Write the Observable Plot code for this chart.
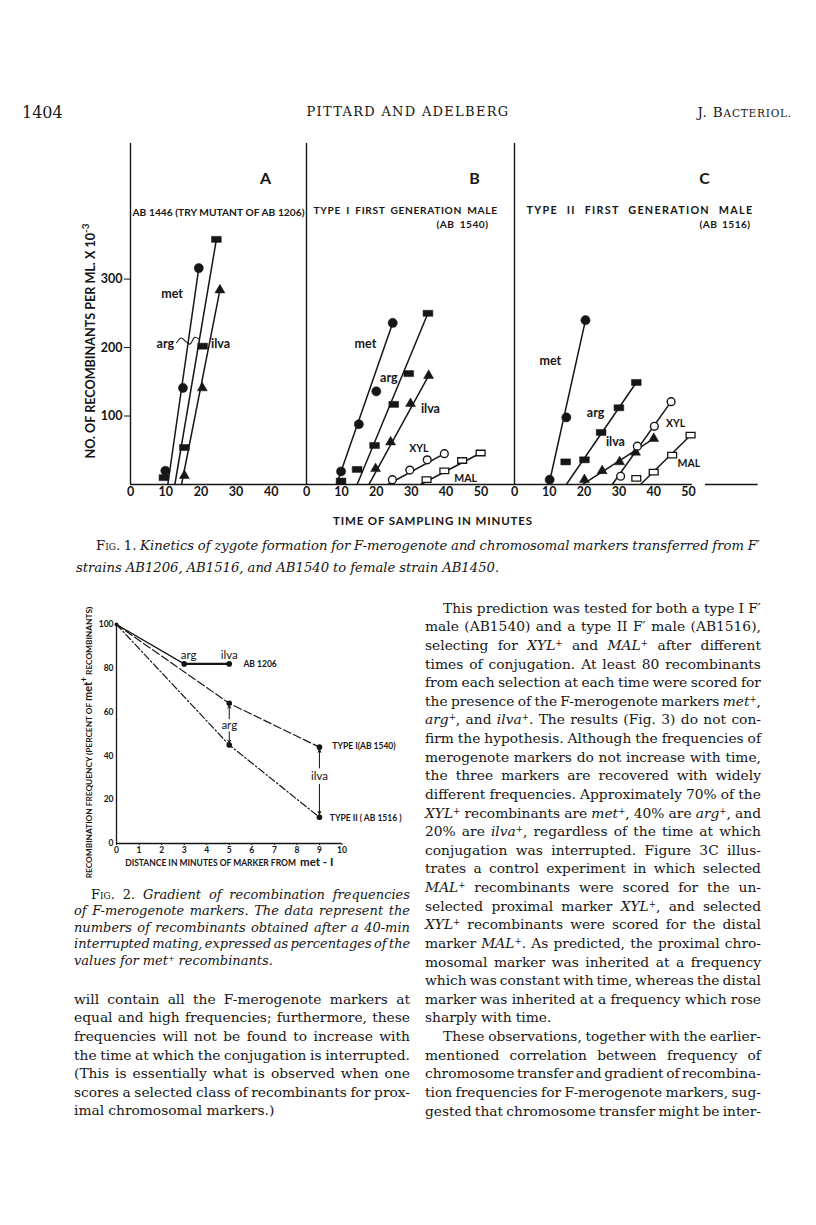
<!DOCTYPE html>
<html><head><meta charset="utf-8">
<script src="https://cdn.jsdelivr.net/npm/d3@7"></script>
<script src="https://cdn.jsdelivr.net/npm/@observablehq/plot@0.6"></script>
<style>
html,body{margin:0;padding:0;background:#fff;}
#page{position:relative;width:816px;height:1225px;overflow:hidden;background:#fff;color:#161616;}
.abs{position:absolute;}
.serif{font-family:"DejaVu Serif",serif;}
.line{display:flex;justify-content:space-between;white-space:nowrap;gap:0.18em;}
.line.last{justify-content:flex-start;gap:0.3em;}
.sc{font-variant:small-caps;font-style:normal;}
.rm{font-style:normal;}
sup{font-size:0.62em;line-height:0;vertical-align:0.5em;}
svg{overflow:visible;}
</style></head><body><div id="page"></div>
<script>
// ================= DATA =================
const INK = "#161616";
// Fig. 1 — time of sampling (min) vs recombinants per ml x 10^-3
const fig1XTicks = { A: [0, 10, 20, 30, 40], B: [0, 10, 20, 30, 40, 50], C: [0, 10, 20, 30, 40, 50] };
const fig1YTicks = [100, 200, 300];

// Panel A: AB 1446 (try mutant of AB 1206)
const timeA = { met: [9.9, 14.9, 19.4], arg: [9.5, 15.3, 20.5, 24.4], ilva: [15.3, 20.4, 25.4] };
const recA  = { met: [20, 141, 316],    arg: [10, 54, 202, 358],     ilva: [13, 141, 284] };
const fitA  = { met: [10.6, 19.4, 316], arg: [12.6, 24.4, 358], ilva: [14.5, 25.4, 284] }; // [t at 0, t end, value end]

// Panel B: type I first generation male (AB 1540)
const timeB = { met: [9.9, 15.0, 20.0, 24.7], arg: [9.9, 14.5, 19.5, 25.0, 29.3, 34.8], ilva: [19.8, 24.1, 29.8, 35.0], XYL: [24.6, 29.6, 34.6, 39.5], MAL: [34.4, 39.5, 44.6, 49.9] };
const recB  = { met: [19, 88, 136, 236],      arg: [5, 22, 57, 117, 162, 250],          ilva: [23, 62, 118, 159],       XYL: [7, 21, 36, 45],          MAL: [7, 20, 35, 46] };
const fitB  = { met: [8.6, 24.7, 236], arg: [14.5, 34.8, 250], ilva: [17.9, 35.0, 159], XYL: [23.3, 39.5, 45], MAL: [32.7, 49.9, 46] };

// Panel C: type II first generation male (AB 1516)
const timeC = { met: [10.1, 14.9, 20.4], arg: [14.7, 20.1, 24.9, 30.0, 35.0], ilva: [20.1, 25.2, 30.2, 34.8, 40.0], XYL: [30.5, 35.3, 40.2, 45.0], MAL: [35.0, 40.0, 45.3, 50.6] };
const recC  = { met: [7, 98, 240],        arg: [33, 36, 76, 112, 149],          ilva: [7, 20, 33, 47, 67],            XYL: [12, 56, 85, 121],        MAL: [9, 18, 43, 72] };
const fitC  = { met: [9.9, 20.4, 240], arg: [14.9, 35.0, 149], ilva: [19.6, 40.0, 67], XYL: [28.1, 45.0, 121], MAL: [36.2, 50.6, 72] };

// curve labels (data units)
const labelsA = [["met", 11.8, 278], ["arg", 9.9, 205], ["ilva", 25.6, 205]];
const labelsB = [["met", 16.9, 205], ["arg", 23.6, 155], ["ilva", 35.5, 110], ["XYL", 32.2, 52], ["MAL", 45.6, 8]];
const labelsC = [["met", 10.3, 181], ["arg", 23.3, 104], ["ilva", 29.0, 62], ["XYL", 46.3, 89], ["MAL", 50.1, 30]];
const squiggleA = [[13.1, 207], [14.4, 214], [15.7, 209], [16.9, 205], [18.2, 215], [19.3, 213]];

// Fig. 2 — distance (min) from met vs recombination frequency (% of met+)
const fig2XTicks = [0, 1, 2, 3, 4, 5, 6, 7, 8, 9, 10];
const fig2YTicks = [0, 20, 40, 60, 80, 100];
const ab1206Dist = [0, 3, 5],  ab1206Freq = [100, 82, 82];
const typeIDist  = [0, 5, 9],  typeIFreq  = [100, 64, 44];
const typeIIDist = [0, 5, 9],  typeIIFreq = [100, 45, 12];

// ================= TEXT =================
const fig1Caption = [
  '<span class="sc">Fig.</span> <span class="rm">1.</span> Kinetics of zygote formation for F-merogenote and chromosomal markers transferred from F′',
  'strains AB1206, AB1516, and AB1540 to female strain AB1450.'
];
const fig2Caption = [
  '<span class="sc">Fig.</span> <span class="rm">2.</span> Gradient of recombination frequencies',
  'of F-merogenote markers. The data represent the',
  'numbers of recombinants obtained after a 40-min',
  'interrupted mating, expressed as percentages of the',
  'values for met<sup>+</sup> recombinants.'
];
const leftBody = [
  'will contain all the F-merogenote markers at',
  'equal and high frequencies; furthermore, these',
  'frequencies will not be found to increase with',
  'the time at which the conjugation is interrupted.',
  '(This is essentially what is observed when one',
  'scores a selected class of recombinants for prox-',
  'imal chromosomal markers.)'
];
const rightBody = [
  'This prediction was tested for both a type I F′',
  'male (AB1540) and a type II F′ male (AB1516),',
  'selecting for <i>XYL</i><sup>+</sup> and <i>MAL</i><sup>+</sup> after different',
  'times of conjugation. At least 80 recombinants',
  'from each selection at each time were scored for',
  'the presence of the F-merogenote markers <i>met</i><sup>+</sup>,',
  '<i>arg</i><sup>+</sup>, and <i>ilva</i><sup>+</sup>. The results (Fig. 3) do not con-',
  'firm the hypothesis. Although the frequencies of',
  'merogenote markers do not increase with time,',
  'the three markers are recovered with widely',
  'different frequencies. Approximately 70% of the',
  '<i>XYL</i><sup>+</sup> recombinants are <i>met</i><sup>+</sup>, 40% are <i>arg</i><sup>+</sup>, and',
  '20% are <i>ilva</i><sup>+</sup>, regardless of the time at which',
  'conjugation was interrupted. Figure 3C illus-',
  'trates a control experiment in which selected',
  '<i>MAL</i><sup>+</sup> recombinants were scored for the un-',
  'selected proximal marker <i>XYL</i><sup>+</sup>, and selected',
  '<i>XYL</i><sup>+</sup> recombinants were scored for the distal',
  'marker <i>MAL</i><sup>+</sup>. As predicted, the proximal chro-',
  'mosomal marker was inherited at a frequency',
  'which was constant with time, whereas the distal',
  'marker was inherited at a frequency which rose',
  'sharply with time.',
  'These observations, together with the earlier-',
  'mentioned correlation between frequency of',
  'chromosome transfer and gradient of recombina-',
  'tion frequencies for F-merogenote markers, sug-',
  'gested that chromosome transfer might be inter-'
];

// ================= PAGE =================
const page = document.getElementById("page");
function addDiv(html, css) {
  const d = document.createElement("div");
  d.className = "abs";
  d.innerHTML = html;
  Object.assign(d.style, css);
  page.appendChild(d);
  return d;
}

// running head
addDiv("1404", {left: "22px", top: "103px", font: "16px 'DejaVu Serif', serif"});
addDiv("PITTARD AND ADELBERG", {left: "0px", width: "816px", textAlign: "center", top: "104px", font: "13px 'DejaVu Serif', serif", letterSpacing: "1.3px"});
addDiv('J. B<span style="font-size:10.5px">ACTERIOL.</span>', {right: "24px", top: "104px", font: "13.5px 'DejaVu Serif', serif", letterSpacing: "0.8px"});

// justified text block (split on spaces outside of tags)
function textBlock(lines, {left, top, width, lineHeight, fontSize, italic, lastIdx = [], indentIdx = [], indent = 18}) {
  const block = document.createElement("div");
  block.className = "abs serif";
  Object.assign(block.style, {left: left + "px", top: top + "px", width: width + "px", lineHeight: lineHeight + "px", fontStyle: italic ? "italic" : "normal"});
  page.appendChild(block);
  const rows = lines.map((ln, i) => {
    const row = document.createElement("div");
    row.className = "line" + (lastIdx.includes(i) ? " last" : "");
    if (indentIdx.includes(i)) row.style.paddingLeft = indent + "px";
    row.style.height = lineHeight + "px";
    ln.split(/ (?![^<]*>)/).forEach(w => { const s = document.createElement("span"); s.innerHTML = w; row.appendChild(s); });
    block.appendChild(row);
    return row;
  });
  let fs = fontSize;
  block.style.fontSize = fs + "px";
  let guard = 0;
  while (rows.some(r => r.scrollWidth > r.clientWidth + 0.5) && guard++ < 60) { fs -= 0.2; block.style.fontSize = fs + "px"; }
  block.fitSize = fs;
  return block;
}

// ================= FIG. 1 =================
const Y_MAX = 498, PX_TOP = 143, PX_BASE = 484;
const rectSym = {draw(ctx, size) { const w = Math.sqrt(size) * 1.25, h = w * 0.62; ctx.moveTo(-w/2, -h/2); ctx.lineTo(w/2, -h/2); ctx.lineTo(w/2, h/2); ctx.lineTo(-w/2, h/2); ctx.closePath(); }};
const symbolFor = {
  met:  {symbol: "circle", r: 4.6, fill: INK, stroke: INK, strokeWidth: 0.5},
  arg:  {symbol: rectSym, r: 4.4, fill: INK, stroke: INK, strokeWidth: 0.5},
  ilva: {symbol: d3.symbolTriangle, r: 3.7, fill: INK, stroke: INK, strokeWidth: 0.5},
  XYL:  {symbol: "circle", r: 3.9, fill: "white", stroke: INK, strokeWidth: 1.4},
  MAL:  {symbol: rectSym, r: 4.0, fill: "white", stroke: INK, strokeWidth: 1.3}
};
const plotStyle = {fontFamily: "Lato, 'DejaVu Sans', sans-serif", fontWeight: 700, fontSize: "12px", background: "transparent", color: INK, overflow: "visible"};

function pointsOf(times, recs) {
  const rows = [];
  for (const m of Object.keys(times)) times[m].forEach((t, i) => rows.push({marker: m, t, v: recs[m][i]}));
  return rows;
}
function fitsOf(fits) { return Object.keys(fits).map(m => ({marker: m, t0: fits[m][0], t1: fits[m][1], v1: fits[m][2]})); }

// stretch a title to a target length: mostly letter spacing, some extra word spacing
function fitTitle(svg, content, len) {
  d3.select(svg).selectAll("text").filter(function() { return this.textContent === content; }).each(function() {
    const natural = this.getComputedTextLength();
    const gaps = (content.match(/ /g) || []).length;
    const extra = len - natural;
    if (gaps > 0 && extra > 0) {
      const ls = Math.min(1.4, extra * 0.65 / content.length);
      const ws = (extra - ls * content.length) / gaps;
      this.setAttribute("letter-spacing", ls.toFixed(2));
      this.setAttribute("word-spacing", ws.toFixed(2));
    } else {
      this.setAttribute("textLength", len); this.setAttribute("lengthAdjust", "spacing");
    }
  });
}

const Y_TITLE1 = "NO. OF RECOMBINANTS PER ML. X 10-3";
function fig1Panel(cfg) {
  const pts = pointsOf(cfg.times, cfg.recs);
  const fits = fitsOf(cfg.fits);
  const marginTop = PX_TOP - cfg.top;
  const plotH = PX_BASE - PX_TOP;
  const marginBottom = 22;
  const width = cfg.marginLeft + cfg.domainEnd * cfg.ppm + cfg.marginRight;
  const labs = cfg.labels.map(([text, t, v]) => ({text, t, v}));
  const marks = [
    Plot.ruleX([0], {y1: 0, y2: Y_MAX, stroke: INK, strokeWidth: 1.4}),
    ...cfg.baseline.map(([a, b]) => Plot.ruleY([0], {x1: a, x2: b, stroke: INK, strokeWidth: 1.4})),
    Plot.axisX({ticks: cfg.xticks, tickSize: 0, tickPadding: 3, fontSize: 12.5, fontWeight: 700, label: null}),
    Plot.link(fits, {x1: "t0", y1: 0, x2: "t1", y2: "v1", stroke: INK, strokeWidth: 1.5}),
    ...Object.keys(symbolFor).map(m => Plot.dot(pts.filter(d => d.marker === m), {x: "t", y: "v", ...symbolFor[m]})),
    Plot.text(labs.filter(d => d.text === d.text.toLowerCase()), {x: "t", y: "v", text: "text", fontSize: 12.5, fontWeight: 700, fill: INK}),
    Plot.text(labs.filter(d => d.text !== d.text.toLowerCase()), {x: "t", y: "v", text: "text", fontSize: 10.5, fontWeight: 700, fill: INK}),
    Plot.text([cfg.letter], {frameAnchor: "top-left", textAnchor: "middle", dx: cfg.letterDx, dy: 29, fontSize: 16, fontWeight: 700, fill: INK}),
    ...cfg.titles.map(tt => Plot.text([tt.text], {frameAnchor: "top-left", dx: tt.dx, dy: tt.dy, textAnchor: tt.anchor, fontSize: tt.size || 10.2, fontWeight: 700, fill: INK}))
  ];
  if (cfg.yAxis) {
    marks.push(Plot.axisY({ticks: fig1YTicks, tickSize: 6, tickPadding: 2, fontSize: 12.5, fontWeight: 700, label: null}));
    marks.push(Plot.text([Y_TITLE1], {frameAnchor: "left", textAnchor: "middle", dx: -40, dy: 27, rotate: -90, fontSize: 12.6, fontWeight: 700, fill: INK}));
  }
  if (cfg.squiggle) marks.push(Plot.line(cfg.squiggle, {x: d => d[0], y: d => d[1], curve: "catmull-rom", stroke: INK, strokeWidth: 1.1}));
  const svg = Plot.plot({
    width, height: marginTop + plotH + marginBottom,
    marginLeft: cfg.marginLeft, marginRight: cfg.marginRight, marginTop, marginBottom,
    x: {domain: [0, cfg.domainEnd], axis: null}, y: {domain: [0, Y_MAX], axis: null},
    style: plotStyle, marks
  });
  svg.style.position = "absolute";
  svg.style.left = cfg.left + "px";
  svg.style.top = cfg.top + "px";
  d3.select(svg).selectAll("text").filter(function() { return this.textContent === Y_TITLE1; })
    .each(function() { const t = d3.select(this); t.text(null); t.append("tspan").text("NO. OF RECOMBINANTS PER ML. X 10"); t.append("tspan").attr("dy", "-0.55em").attr("font-size", 10).text("-3"); });
  page.appendChild(svg);
  cfg.titles.forEach(tt => tt.len && fitTitle(svg, tt.text, tt.len));
}

fig1Panel({letter: "A", letterDx: 135, left: 60, top: 130, marginLeft: 70, marginRight: 0, domainEnd: 50, ppm: 3.52,
  xticks: fig1XTicks.A, yAxis: true, baseline: [[0, 50]], times: timeA, recs: recA, fits: fitA, labels: labelsA, squiggle: squiggleA,
  titles: [{text: "AB 1446 (TRY MUTANT OF AB 1206)", dx: 2, dy: 65, anchor: "start", len: 172}]});
fig1Panel({letter: "B", letterDx: 168, left: 296, top: 130, marginLeft: 10, marginRight: 2, domainEnd: 59.6, ppm: 3.49,
  xticks: fig1XTicks.B, yAxis: false, baseline: [[0, 59.6]], times: timeB, recs: recB, fits: fitB, labels: labelsB,
  titles: [{text: "TYPE I FIRST GENERATION MALE", dx: 7, dy: 63, anchor: "start", len: 184}, {text: "(AB 1540)", dx: 182, dy: 77, anchor: "end", len: 52}]});
fig1Panel({letter: "C", letterDx: 190, left: 504, top: 130, marginLeft: 10, marginRight: 20, domainEnd: 70, ppm: 3.48,
  xticks: fig1XTicks.C, yAxis: false, baseline: [[0, 51.1], [54.9, 70]], times: timeC, recs: recC, fits: fitC, labels: labelsC,
  titles: [{text: "TYPE II FIRST GENERATION MALE", dx: 12, dy: 63, anchor: "start", len: 227, size: 10.8}, {text: "(AB 1516)", dx: 236, dy: 77, anchor: "end", len: 51}]});

addDiv("TIME OF SAMPLING IN MINUTES", {left: "333px", top: "514px", font: "700 11.5px Lato, sans-serif", letterSpacing: "0.85px", color: INK});

textBlock(fig1Caption, {left: 76, top: 535, width: 684, lineHeight: 22, fontSize: 13.2, italic: true, lastIdx: [1], indentIdx: [0], indent: 20});

// ================= FIG. 2 =================
(function fig2() {
  const left = 60, top = 590, marginLeft = 56, marginTop = 34, plotW = 225.5, plotH = 219, marginRight = 80, marginBottom = 34;
  const mk = (dist, freq, series) => dist.map((x, i) => ({x, y: freq[i], series}));
  const ab = mk(ab1206Dist, ab1206Freq, "AB1206"), t1 = mk(typeIDist, typeIFreq, "TYPE I"), t2 = mk(typeIIDist, typeIIFreq, "TYPE II");
  const markerNotes = [
    {text: "arg", x: 3.2, y: 85.8}, {text: "ilva", x: 5.0, y: 85.8},
    {text: "arg", x: 5.0, y: 53.9}, {text: "ilva", x: 9.0, y: 30.6}
  ];
  const strainNotes = [
    {text: "AB 1206", x: 5.63, y: 81.7},
    {text: "TYPE I(AB 1540)", x: 9.57, y: 44.3},
    {text: "TYPE II ( AB 1516 )", x: 9.46, y: 11.7}
  ];
  const arrows = [[5.0, 57.0, 5.0, 63.2], [5.0, 51.0, 5.0, 45.8], [9.0, 34.5, 9.0, 43.0], [9.0, 27.0, 9.0, 13.3]];
  const Y_TITLE2 = "RECOMBINATION FREQUENCY (PERCENT OF met+ RECOMBINANTS)";
  const X_TITLE2 = "DISTANCE IN MINUTES OF MARKER FROM met - I";
  const svg = Plot.plot({
    width: marginLeft + plotW + marginRight, height: marginTop + plotH + marginBottom,
    marginLeft, marginTop, marginRight, marginBottom,
    x: {domain: [0, 10], axis: null}, y: {domain: [0, 100], axis: null},
    style: {...plotStyle, fontSize: "9px"},
    marks: [
      Plot.ruleX([0], {y1: 0, y2: 100, stroke: INK, strokeWidth: 1.3}),
      Plot.ruleY([0], {x1: 0, x2: 10, stroke: INK, strokeWidth: 1.3}),
      Plot.axisX({ticks: fig2XTicks, tickSize: 2, tickPadding: 1, fontSize: 8.5, fontWeight: 700, label: null}),
      Plot.axisY({ticks: fig2YTicks, tickSize: 0, tickPadding: 3, fontSize: 8.5, fontWeight: 700, label: null}),
      Plot.line(ab, {x: "x", y: "y", stroke: INK, strokeWidth: 1.4}),
      Plot.line(ab.slice(1), {x: "x", y: "y", stroke: INK, strokeWidth: 2.4}),
      Plot.line(t1, {x: "x", y: "y", stroke: INK, strokeWidth: 1.2, strokeDasharray: "8,3"}),
      Plot.line(t2, {x: "x", y: "y", stroke: INK, strokeWidth: 1.2, strokeDasharray: "7,2.5,1.5,2.5"}),
      Plot.dot([...ab, ...t1, ...t2].filter(d => d.x > 0), {x: "x", y: "y", r: 2.8, fill: INK}),
      Plot.dot([ab[0]], {x: "x", y: "y", r: 2, fill: INK}),
      Plot.arrow(arrows, {x1: d => d[0], y1: d => d[1], x2: d => d[2], y2: d => d[3], stroke: INK, strokeWidth: 1, headLength: 5, headAngle: 50}),
      Plot.text(markerNotes, {x: "x", y: "y", text: "text", fontSize: 11.5, fontWeight: 400, textAnchor: "middle", fill: INK}),
      Plot.text(strainNotes, {x: "x", y: "y", text: "text", fontSize: 8.5, fontWeight: 700, textAnchor: "start", fill: INK}),
      Plot.text([Y_TITLE2], {frameAnchor: "left", textAnchor: "middle", dx: -27, dy: 8.5, rotate: -90, fontSize: 8.3, fontWeight: 700, fill: INK}),
      Plot.text([X_TITLE2], {frameAnchor: "bottom", textAnchor: "middle", dy: 22, fontSize: 8.5, fontWeight: 700, fill: INK})
    ]
  });
  svg.style.position = "absolute";
  svg.style.left = left + "px";
  svg.style.top = top + "px";
  d3.select(svg).selectAll("text").filter(function() { return this.textContent === Y_TITLE2; })
    .each(function() { const t = d3.select(this); t.text(null);
      t.append("tspan").text("RECOMBINATION FREQUENCY (PERCENT OF ");
      t.append("tspan").attr("font-size", 11).text("met");
      t.append("tspan").attr("font-size", 8.5).attr("dy", "-0.6em").text("+");
      t.append("tspan").attr("dy", "0.6em").text(" RECOMBINANTS)"); });
  d3.select(svg).selectAll("text").filter(function() { return this.textContent === X_TITLE2; })
    .each(function() { const t = d3.select(this); t.text(null);
      t.append("tspan").text("DISTANCE IN MINUTES OF MARKER FROM  ");
      t.append("tspan").attr("font-size", 11.5).text("met - I"); });
  page.appendChild(svg);
})();

textBlock(fig2Caption, {left: 74, top: 886.7, width: 336, lineHeight: 16.5, fontSize: 14, italic: true, lastIdx: [4], indentIdx: [0], indent: 17});
const lb = textBlock(leftBody, {left: 74, top: 989.8, width: 336, lineHeight: 18.6, fontSize: 15, italic: false, lastIdx: [6]});
const rb = textBlock(rightBody, {left: 425, top: 598.7, width: 336, lineHeight: 18.63, fontSize: 15, italic: false, lastIdx: [22], indentIdx: [0, 23], indent: 18});
const common = Math.min(lb.fitSize, rb.fitSize);
lb.style.fontSize = common + "px";
rb.style.fontSize = common + "px";
</script></body></html>
